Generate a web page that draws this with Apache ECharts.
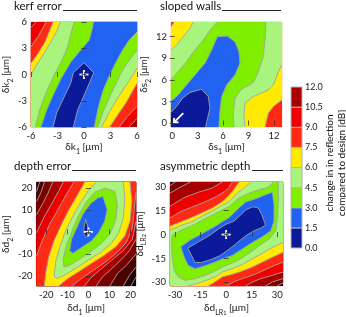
<!DOCTYPE html>
<html><head><meta charset="utf-8">
<script src="https://cdn.jsdelivr.net/npm/echarts@6/dist/echarts.min.js"></script>
<style>html,body{margin:0;padding:0;background:#fff}#c{width:346px;height:317px}</style>
</head><body><div id="c"></div>
<script>
const FONT = 'Lato';
// colour of each 1.5 dB band: [0,1.5), [1.5,3), ... 
const bandColors = ['#0a1a98','#2262f0','#80ee00','#a8f47c','#ffea00','#ff2a14','#ee0000','#a80000','#7a0000','#4c0000','#260000','#0a0000'];
const cbEdges = [0,1.5,3,4.5,6,7.5,9,10.5];
const cbTicks = [0,1.5,3,4.5,6,7.5,9,10.5,12];

// tick labels
const kerfTicks = [-6,-3,0,3,6];
const slopeTicks = [0,3,6,9,12];
const depthTicks = [-20,-10,0,10,20];
const asymTicks = [-30,-15,0,15,30];

// contour regions: [band index, boundary polygon in data units (μm)], painted in order
const kerfRegions = [
 [7, [[-8,-8],[8,-8],[8,8],[-8,8]]],
 [6, [[-6.3,5.15],[-6,5.36],[-5.42,6],[-5.3,6.3],[8,8],[6.3,-4.8],[6,-5],[5.1,-6],[5.0,-6.3],[-8,-8]]],
 [5, [[-6.3,2.95],[-6,3.16],[-5.12,4.48],[-4.28,6],[-4.2,6.3],[8,8],[6.3,-3.5],[6,-3.66],[4.91,-4.8],[4,-6],[3.9,-6.3],[-8,-8]]],
 [4, [[-6.3,1.15],[-6,1.27],[-5.31,2.21],[-4.39,3.73],[-3.48,6],[-3.4,6.3],[8,8],[6.3,-1.1],[6,-1.0],[5.46,-1.95],[4.73,-3.28],[3.82,-4.61],[2.91,-6],[2.8,-6.3],[-8,-8]]],
 [3, [[-6.3,-0.2],[-6,-0.06],[-5.49,0.89],[-4.76,2.02],[-3.85,3.54],[-3.12,4.86],[-2.68,6],[-2.6,6.3],[8,8],[6.3,0.85],[6,0.7],[5.35,-0.33],[4.62,-1.46],[3.82,-2.71],[2.91,-4.23],[2.0,-6],[1.9,-6.3],[-8,-8]]],
 [2, [[-5.55,-6.3],[-5.49,-6],[-5.01,-4.04],[-4.39,-2.33],[-3.48,-0.25],[-2.57,1.45],[-1.84,3.16],[-1.47,4.67],[-1.11,6],[-1.05,6.3],[8,8],[6.3,2.85],[6,2.78],[5.28,1.83],[4.36,0.51],[3.64,-1.0],[2.91,-2.52],[2.18,-4.23],[1.55,-6],[1.5,-6.3]]],
 [1, [[-4.95,-6.3],[-4.87,-6],[-4.21,-4.04],[-3.48,-2.33],[-2.57,-0.44],[-1.47,1.45],[-0.38,2.78],[0.6,3.92],[0.9,5.05],[1.08,6],[1.1,6.3],[8,8],[6.3,5.1],[6,4.86],[5.09,3.92],[4.36,2.78],[3.64,1.45],[2.91,-0.06],[2.18,-1.76],[1.64,-3.66],[1.17,-6],[1.1,-6.3]]],
 [0, [[-1.2,-6.3],[-1.2,-6],[-0.7,-4],[-0.2,-2.9],[0.6,-1],[1.1,0.2],[0,1.35],[-1.2,0.2],[-1.5,-1],[-2.4,-2.9],[-3.1,-4.4],[-3.5,-6],[-3.55,-6.3]]]
];
const slopeRegions = [
 [5, [[-3,-3],[16,-3],[16,17],[-3,17]]],
 [4, [[-0.5,13.2],[-0.15,13.38],[0.24,14.05],[0.3,14.5],[16,17],[13.3,3.4],[12.95,3.23],[11.93,2.31],[11.34,1.38],[10.94,-0.55],[10.9,-0.9],[-3,-3]]],
 [3, [[-0.5,10.0],[-0.15,10.15],[0.51,10.84],[1.3,12.0],[2.09,13.15],[2.48,14.05],[2.55,14.5],[16,17],[13.3,8.2],[12.95,8.08],[12.52,7.15],[11.93,5.31],[11.34,4.61],[9.57,3.69],[8.58,2.77],[8.46,1.15],[8.58,-0.55],[8.6,-0.9],[-3,-3]]],
 [2, [[-0.5,5.8],[-0.15,6.0],[0.71,7.15],[1.69,8.54],[2.68,10.15],[3.66,11.54],[4.45,12.92],[5.31,14.05],[5.4,14.5],[11.1,14.5],[11.06,14.05],[10.98,12.0],[10.75,9.23],[10.16,7.15],[9.57,5.63],[8.19,4.71],[7.4,3.46],[7.2,1.38],[7.28,-0.55],[7.3,-0.9],[-3,-3]]],
 [1, [[5.51,-0.9],[5.51,-0.55],[5.63,1.85],[5.83,3.69],[6.42,5.31],[7.4,6.69],[7.99,8.31],[7.87,9.92],[7.4,11.3],[6.5,12.09],[5.31,12.0],[4.65,10.15],[3.86,8.31],[2.68,6.69],[1.69,5.31],[0.71,3.92],[-0.15,3.0],[-0.5,2.8],[-3,-3]]],
 [0, [[3.94,-0.9],[3.94,-0.55],[4.13,0.46],[4.45,2.08],[4.25,3.69],[3.46,4.71],[2.09,4.25],[1.22,3.46],[0.51,2.31],[-0.15,1.48],[-0.5,1.2],[-3,-3]]]
];
const depthRegions = [
 [11, [[-40,-40],[40,-40],[40,40],[-40,40]]],
 [10, [[-40,40],[40,40],[23.5,-19.5],[22.6,-20.5],[20.2,-24.6],[19.8,-25.5],[-40,-40]]],
 [9, [[-25.5,17],[-24.6,18.4],[-23.2,22.6],[-22.8,23.5],[40,40],[23.5,-15],[22.6,-16.0],[19.5,-19.7],[16.6,-24.6],[16.2,-25.5],[-40,-40]]],
 [8, [[-25.5,12.5],[-24.6,13.9],[-22.7,17.6],[-20.9,22.6],[-20.5,23.5],[40,40],[23.5,-9],[22.6,-10.0],[18.0,-15.2],[13.7,-19.0],[10.2,-24.6],[9.8,-25.5],[-40,-40]]],
 [7, [[-25.5,6.5],[-24.6,7.9],[-22.0,12.4],[-19.2,17.6],[-17.0,22.6],[-16.5,23.5],[40,40],[23.5,-2.3],[22.6,-3.3],[19.5,-8.5],[15.2,-13.0],[10.2,-17.5],[6.6,-20.5],[3.7,-24.6],[3.3,-25.5],[-40,-40]]],
 [6, [[-25.5,-1.8],[-24.6,-0.3],[-21.3,6.4],[-17.7,12.4],[-14.2,18.4],[-12.0,22.6],[-11.5,23.5],[40,40],[23.5,6.5],[22.6,4.9],[20.9,-3.3],[16.6,-8.5],[10.9,-13.0],[5.2,-17.5],[0.86,-21.2],[-2.0,-24.6],[-2.6,-25.5],[-40,-40]]],
 [5, [[-25.5,-12.5],[-24.6,-10.8],[-22.0,-4.0],[-18.5,3.4],[-14.9,9.4],[-10.6,16.9],[-7.0,22.6],[-6.5,23.5],[40,40],[23.5,20],[22.6,18.4],[20.9,1.9],[18.0,-4.8],[13.7,-9.3],[8.0,-13.75],[2.3,-17.5],[-3.4,-21.2],[-7.7,-24.6],[-8.3,-25.5],[-40,-40]]],
 [4, [[-21.0,-25.5],[-20.9,-24.6],[-20.31,-18.98],[-18.88,-11.51],[-16.31,-4.04],[-12.73,3.44],[-9.16,10.16],[-5.58,16.14],[-1.72,22.57],[-1.5,23.5],[20.0,23.5],[19.74,22.57],[20.6,13.9],[19.74,4.93],[17.31,-1.79],[13.02,-6.73],[7.3,-10.76],[1.57,-14.2],[-4.15,-17.79],[-9.87,-21.23],[-14.16,-24.6],[-14.6,-25.5]]],
 [3, [[3.9,23.5],[16.4,23.5],[16.6,22.57],[17.3,15.4],[16.6,6.43],[14.45,-0.3],[10.87,-5.23],[5.87,-9.27],[0.14,-12.71],[-5.58,-16.29],[-10.59,-19.28],[-14.88,-21.23],[-16.31,-20.18],[-15.59,-13.75],[-13.45,-6.28],[-10.59,1.2],[-7.01,7.92],[-3.43,13.9],[0.14,19.13],[3.72,22.57]]],
 [2, [[8.01,19.88],[12.59,18.39],[13.73,12.41],[13.02,5.68],[10.59,-0.3],[6.58,-4.78],[2.29,-8.22],[-3.43,-11.96],[-9.16,-15.25],[-11.59,-15.99],[-12.02,-12.26],[-10.3,-5.53],[-7.73,0.45],[-4.86,7.17],[-1.29,13.15],[3.0,18.09]]],
 [1, [[6.87,16.14],[8.87,10.16],[7.73,4.93],[4.86,-0.3],[1.57,-4.04],[-2.72,-6.73],[-7.44,-9.72],[-8.87,-8.52],[-8.01,-3.29],[-5.15,2.69],[-2.72,7.92],[0.86,12.71],[4.43,15.4]]],
 [0, [[-1.29,5.68],[-0.29,1.94],[0.29,-1.05],[-0.86,-2.54],[-2.29,-0.75],[-2.0,2.69]]]
];
const asymRegions = [
 [9, [[-40,-40],[40,-40],[40,40],[-40,40]]],
 [8, [[-34,30.5],[-32.9,30.7],[-30,32.8],[-29.5,34],[40,40],[34,-30.5],[33.3,-30.3],[30,-32.2],[29.5,-34],[-40,-40]]],
 [7, [[-34,25.8],[-32.9,26.0],[-28.0,29.1],[-21.2,32.8],[-20.8,34],[40,40],[34,-27.5],[33.3,-27.7],[27.1,-29.7],[23.1,-32.2],[22.5,-34],[-40,-40]]],
 [6, [[-34,17.5],[-32.9,17.75],[-25.1,22.9],[-16.3,26.6],[-8.4,29.1],[-2.5,32.8],[-2,34],[40,40],[34,-23.7],[33.3,-23.5],[27.1,-25.6],[20.2,-27.7],[14.3,-30.3],[11.4,-32.2],[10.8,-34],[-40,-40]]],
 [5, [[-34,10.3],[-32.9,10.5],[-26.1,14.7],[-18.2,18.0],[-11.4,21.0],[-5.5,24.0],[0.6,28.1],[3.5,32.8],[4,34],[40,40],[34,-17.5],[33.3,-17.3],[27.1,-20.0],[21.2,-22.9],[15.3,-25.6],[9.4,-27.7],[4.5,-29.7],[0.6,-32.2],[0,-34],[-40,-40]]],
 [4, [[-34,5.0],[-32.9,5.2],[-27.1,7.8],[-21.2,10.2],[-14.3,13.5],[-7.5,17.0],[-2.35,20.5],[0.6,23.5],[4.5,28.1],[7.5,32.8],[8,34],[40,40],[34,-11.3],[33.3,-11.1],[27.1,-14.2],[21.2,-17.3],[15.3,-20.4],[9.4,-22.9],[3.5,-25.0],[-2.35,-26.6],[-6.5,-29.7],[-10.4,-32.2],[-11,-34],[-40,-40]]],
 [3, [[-34,2.5],[-32.9,2.7],[-27.1,5.5],[-20.2,8.0],[-13.3,12.0],[-6.5,15.5],[-2.35,18.5],[1.6,20.5],[6.5,26.0],[11.4,30.1],[14.3,32.8],[14.6,34],[40,40],[34,-5.0],[33.3,-5.0],[27.1,-8.05],[21.2,-11.8],[15.3,-15.3],[9.4,-18.8],[3.5,-21.5],[-2.35,-23.5],[-6.5,-26.6],[-12.4,-29.1],[-17.3,-30.8],[-22.2,-32.2],[-22.8,-34],[-40,-40]]],
 [2, [[-31.6,-0.2],[-26.1,2.8],[-20.2,5.5],[-13.3,9.5],[-6.5,13.0],[-2.35,15.5],[1.6,17.5],[7.5,22.9],[13.3,26.0],[19.2,28.1],[24.1,29.5],[27.1,32.2],[27.5,34],[30.5,34],[30.6,22.9],[30.0,10.5],[29.0,2.3],[25.1,-2.9],[19.2,-7.0],[13.3,-11.8],[7.5,-15.9],[1.6,-18.8],[-2.35,-20.4],[-6.5,-22.9],[-12.4,-25.6],[-18.2,-27.7],[-24.1,-28.7],[-28.0,-26.6],[-30.4,-22.5],[-31.6,-14.2],[-32,-6.0]]],
 [1, [[-26.5,-7.6],[-21.2,-3.5],[-14.3,0.5],[-7.5,4.5],[-2.35,8.0],[1.6,10.5],[6.5,15.7],[11.4,20.4],[17.3,22.5],[23.1,25.0],[27.1,26.6],[28.0,18.8],[28.0,8.5],[26.1,2.3],[21.2,-1.4],[15.3,-5.0],[9.4,-9.1],[3.5,-13.2],[-2.35,-15.3],[-6.5,-17.3],[-12.4,-19.6],[-18.2,-21.5],[-22.2,-19.4],[-24.5,-14.2],[-25.7,-10.5]]],
 [0, [[-22.5,-8.5],[-17.3,-5.2],[-10.4,-1.0],[-4.5,3.5],[0,6.5],[4.5,8.4],[8.4,12.2],[11.4,15.5],[15.7,17.5],[18.8,16.7],[20.8,12.6],[22.4,8.05],[23.1,6.0],[20.8,4.3],[16.3,2.3],[11.4,-0.8],[5.5,-6.0],[0.6,-10.1],[-3.5,-13.2],[-8.4,-15.5],[-14.3,-17.5],[-18.2,-17.5],[-20.6,-12.6]]]
];
// design points and arrow
const kerfMark = [[0,0]];
const depthMark = [[0,0]];
const asymMark = [[0,0]];
const slopeArrow = [[1.3,1.38,0.2,0.09]];

// ---------- helpers ----------
function clipPoly(pts, r){
  const inside=[p=>p[0]>=r.x0,p=>p[0]<=r.x1,p=>p[1]>=r.y0,p=>p[1]<=r.y1];
  const inter=[
    (a,b)=>{const t=(r.x0-a[0])/(b[0]-a[0]);return [r.x0,a[1]+t*(b[1]-a[1])];},
    (a,b)=>{const t=(r.x1-a[0])/(b[0]-a[0]);return [r.x1,a[1]+t*(b[1]-a[1])];},
    (a,b)=>{const t=(r.y0-a[1])/(b[1]-a[1]);return [a[0]+t*(b[0]-a[0]),r.y0];},
    (a,b)=>{const t=(r.y1-a[1])/(b[1]-a[1]);return [a[0]+t*(b[0]-a[0]),r.y1];}];
  let out=pts;
  for(let e=0;e<4;e++){
    const inp=out; out=[];
    if(!inp.length) break;
    for(let i=0;i<inp.length;i++){
      const cur=inp[i], prev=inp[(i+inp.length-1)%inp.length];
      const ci=inside[e](cur), pi=inside[e](prev);
      if(ci){ if(!pi) out.push(inter[e](prev,cur)); out.push(cur); }
      else if(pi) out.push(inter[e](prev,cur));
    }
  }
  return out;
}
function clipSeg(a,b,r){
  let t0=0,t1=1; const dx=b[0]-a[0], dy=b[1]-a[1];
  const p=[-dx,dx,-dy,dy], q=[a[0]-r.x0,r.x1-a[0],a[1]-r.y0,r.y1-a[1]];
  for(let i=0;i<4;i++){
    if(p[i]===0){ if(q[i]<0) return null; }
    else { const t=q[i]/p[i];
      if(p[i]<0){ if(t>t1) return null; if(t>t0) t0=t; }
      else { if(t<t0) return null; if(t<t1) t1=t; } }
  }
  if(t1-t0<1e-4) return null;
  return [[a[0]+t0*dx,a[1]+t0*dy],[a[0]+t1*dx,a[1]+t1*dy]];
}
function contourRenderer(regions){
  return function(params, api){
    const idx=params.dataIndex;
    const band=regions[idx][0], poly=regions[idx][1];
    const cs=params.coordSys;
    const r={x0:cs.x,y0:cs.y,x1:cs.x+cs.width,y1:cs.y+cs.height};
    const px=poly.map(p=>api.coord(p));
    const children=[];
    const fp=clipPoly(px,r);
    if(fp.length>=3) children.push({type:'polygon',z2:idx,silent:true,shape:{points:fp},style:{fill:bandColors[band],stroke:bandColors[band],lineWidth:0.2}});
    const runs=[]; let cur=null;
    for(let k=0;k<px.length;k++){
      const s=clipSeg(px[k],px[(k+1)%px.length],r);
      if(!s){cur=null;continue;}
      if(cur){const l=cur[cur.length-1]; if(Math.abs(l[0]-s[0][0])<0.01&&Math.abs(l[1]-s[0][1])<0.01){cur.push(s[1]);continue;}}
      cur=[s[0],s[1]]; runs.push(cur);
    }
    runs.forEach(run=>children.push({type:'polyline',z2:500+idx,silent:true,shape:{points:run},style:{fill:null,stroke:'#a3a3a3',lineWidth:0.9}}));
    return {type:'group',children};
  };
}
function plusRenderer(params, api){
  const c=api.coord([api.value(0),api.value(1)]); const s=4.5;
  return {type:'group',children:[
    {type:'line',shape:{x1:c[0]-s,y1:c[1],x2:c[0]+s,y2:c[1]},style:{stroke:'#fff',lineWidth:1.8}},
    {type:'line',shape:{x1:c[0],y1:c[1]-s,x2:c[0],y2:c[1]+s},style:{stroke:'#fff',lineWidth:1.8}}]};
}
function arrowRenderer(params, api){
  const a=api.coord([api.value(0),api.value(1)]), b=api.coord([api.value(2),api.value(3)]);
  const ang=Math.atan2(b[1]-a[1],b[0]-a[0]), L=4.5, w=0.75;
  const h1=[b[0]-L*Math.cos(ang-w),b[1]-L*Math.sin(ang-w)], h2=[b[0]-L*Math.cos(ang+w),b[1]-L*Math.sin(ang+w)];
  return {type:'group',children:[
    {type:'line',shape:{x1:a[0],y1:a[1],x2:b[0],y2:b[1]},style:{stroke:'#fff',lineWidth:1.8}},
    {type:'polyline',shape:{points:[h1,b,h2]},style:{fill:null,stroke:'#fff',lineWidth:1.8}}]};
}

const rich={
  m:{fontSize:10,fontFamily:FONT,color:'#1a1a1a',lineHeight:16},
  s:{fontSize:7,fontFamily:FONT,color:'#1a1a1a',lineHeight:10,verticalAlign:'bottom'},
  ss:{fontSize:5.5,fontFamily:FONT,color:'#1a1a1a',lineHeight:6,verticalAlign:'bottom'}};

const xAxes=[], yAxes=[];
function addAxes(gi,xr,yr,xt,yt,xName,yName,xGap,yGap){
  const tick={show:true,inside:true,length:2.5,lineStyle:{color:'#333',width:0.8}};
  const lab={fontSize:9.5,fontFamily:FONT,color:'#1a1a1a'};
  xAxes.push({type:'value',gridIndex:gi,position:'bottom',min:xr[0],max:xr[1],z:10,axisLine:{show:false},splitLine:{show:false},
    axisTick:Object.assign({customValues:xt},tick),axisLabel:Object.assign({margin:4,customValues:xt,formatter:v=>String(v)},lab),
    name:xName,nameLocation:'middle',nameGap:xGap,nameTextStyle:{rich:rich}});
  xAxes.push({type:'value',gridIndex:gi,position:'top',min:xr[0],max:xr[1],z:10,axisLine:{show:false},splitLine:{show:false},
    axisTick:Object.assign({customValues:xt},tick),axisLabel:{show:false}});
  yAxes.push({type:'value',gridIndex:gi,position:'left',min:yr[0],max:yr[1],z:10,axisLine:{show:false},splitLine:{show:false},
    axisTick:Object.assign({customValues:yt},tick),axisLabel:Object.assign({margin:4,customValues:yt,formatter:v=>String(v)},lab),
    name:yName,nameLocation:'middle',nameRotate:90,nameGap:yGap,nameTextStyle:{rich:rich}});
  yAxes.push({type:'value',gridIndex:gi,position:'right',min:yr[0],max:yr[1],z:10,axisLine:{show:false},splitLine:{show:false},
    axisTick:Object.assign({customValues:yt},tick),axisLabel:{show:false}});
}
addAxes(0,[-6,6],[-6,6],kerfTicks,kerfTicks,'{m|δk}{s|1}{m| [μm]}','{m|δk}{s|2}{m| [μm]}',12,12);
addAxes(1,[-0.15,12.95],[-0.55,14.05],slopeTicks,slopeTicks,'{m|δs}{s|1}{m| [μm]}','{m|δs}{s|2}{m| [μm]}',12,13);
addAxes(2,[-24.7,22.6],[-24.6,22.7],depthTicks,depthTicks,'{m|δd}{s|1}{m| [μm]}','{m|δd}{s|2}{m| [μm]}',14,12);
addAxes(3,[-32.9,33.3],[-32.3,33.0],asymTicks,asymTicks,'{m|δd}{s|LR}{ss|1}{m| [μm]}','{m|δd}{s|LR}{ss|2}{m| [μm]}',14,13);
// colorbar axes (grid 4)
xAxes.push({type:'value',gridIndex:4,min:0,max:1,show:false});
yAxes.push({type:'value',gridIndex:4,min:0,max:12,interval:1.5,position:'right',axisLine:{show:false},axisTick:{show:false},splitLine:{show:false},
  axisLabel:{margin:3,fontSize:9,fontFamily:FONT,color:'#1a1a1a',formatter:v=>v.toFixed(1)}});

function contourSeries(k,regions){
  return {type:'custom',xAxisIndex:2*k,yAxisIndex:2*k,renderItem:contourRenderer(regions),data:regions.map(()=>[0,0]),silent:true,z:2};
}
const series=[
  contourSeries(0,kerfRegions), contourSeries(1,slopeRegions), contourSeries(2,depthRegions), contourSeries(3,asymRegions),
  {type:'custom',xAxisIndex:0,yAxisIndex:0,renderItem:plusRenderer,data:kerfMark,z:5,silent:true},
  {type:'custom',xAxisIndex:2,yAxisIndex:2,renderItem:arrowRenderer,data:slopeArrow,z:5,silent:true},
  {type:'custom',xAxisIndex:4,yAxisIndex:4,renderItem:plusRenderer,data:depthMark,z:5,silent:true},
  {type:'custom',xAxisIndex:6,yAxisIndex:6,renderItem:plusRenderer,data:asymMark,z:5,silent:true},
  {type:'custom',xAxisIndex:8,yAxisIndex:4,silent:true,z:3,data:cbEdges.map((v,i)=>[0,v,i]),
    renderItem:function(params,api){
      const lo=api.value(1), i=api.value(2);
      const p0=api.coord([0,lo]), p1=api.coord([1,lo+1.5]);
      return {type:'rect',shape:{x:p0[0],y:p1[1],width:p1[0]-p0[0],height:p0[1]-p1[1]},style:{fill:bandColors[i],stroke:'#b4b4b4',lineWidth:1}};
    }}
];
// fix colorbar series yAxisIndex: colorbar y axis is the last one
series[series.length-1].yAxisIndex = yAxes.length-1;
series[series.length-1].xAxisIndex = xAxes.length-1;

const tStyle={fontSize:11.5,fontFamily:FONT,fill:'#111',verticalAlign:'middle'};
const graphics=[
  {type:'text',x:14,y:6.5,style:Object.assign({text:'kerf error'},tStyle)},
  {type:'text',x:160,y:6.5,style:Object.assign({text:'sloped walls'},tStyle)},
  {type:'text',x:14,y:166.5,style:Object.assign({text:'depth error'},tStyle)},
  {type:'text',x:160,y:166.5,style:Object.assign({text:'asymmetric depth'},tStyle)},
  {type:'line',shape:{x1:63,y1:10.5,x2:137,y2:10.5},style:{stroke:'#222',lineWidth:1}},
  {type:'line',shape:{x1:222,y1:10.5,x2:281,y2:10.5},style:{stroke:'#222',lineWidth:1}},
  {type:'line',shape:{x1:72,y1:170.5,x2:136,y2:170.5},style:{stroke:'#222',lineWidth:1}},
  {type:'line',shape:{x1:252,y1:170.5,x2:283,y2:170.5},style:{stroke:'#222',lineWidth:1}},
  {type:'text',x:330,y:163,rotation:Math.PI/2,style:{text:'change in in reflection',fontSize:10,fontFamily:FONT,fill:'#111',align:'center',verticalAlign:'middle'}},
  {type:'text',x:341.5,y:163,rotation:Math.PI/2,style:{text:'compared to design [dB]',fontSize:10,fontFamily:FONT,fill:'#111',align:'center',verticalAlign:'middle'}}
];

const chart=echarts.init(document.getElementById('c'),null,{renderer:'canvas'});
chart.setOption({
  animation:false, backgroundColor:'#fff',
  grid:[
    {left:27,top:22,width:110,height:105},
    {left:171,top:22,width:111,height:105},
    {left:26,top:182,width:110,height:105},
    {left:170,top:182,width:113,height:105},
    {left:291,top:87,width:11,height:161}
  ],
  xAxis:xAxes, yAxis:yAxes, series:series, graphic:{elements:graphics}
});
</script></body></html>
